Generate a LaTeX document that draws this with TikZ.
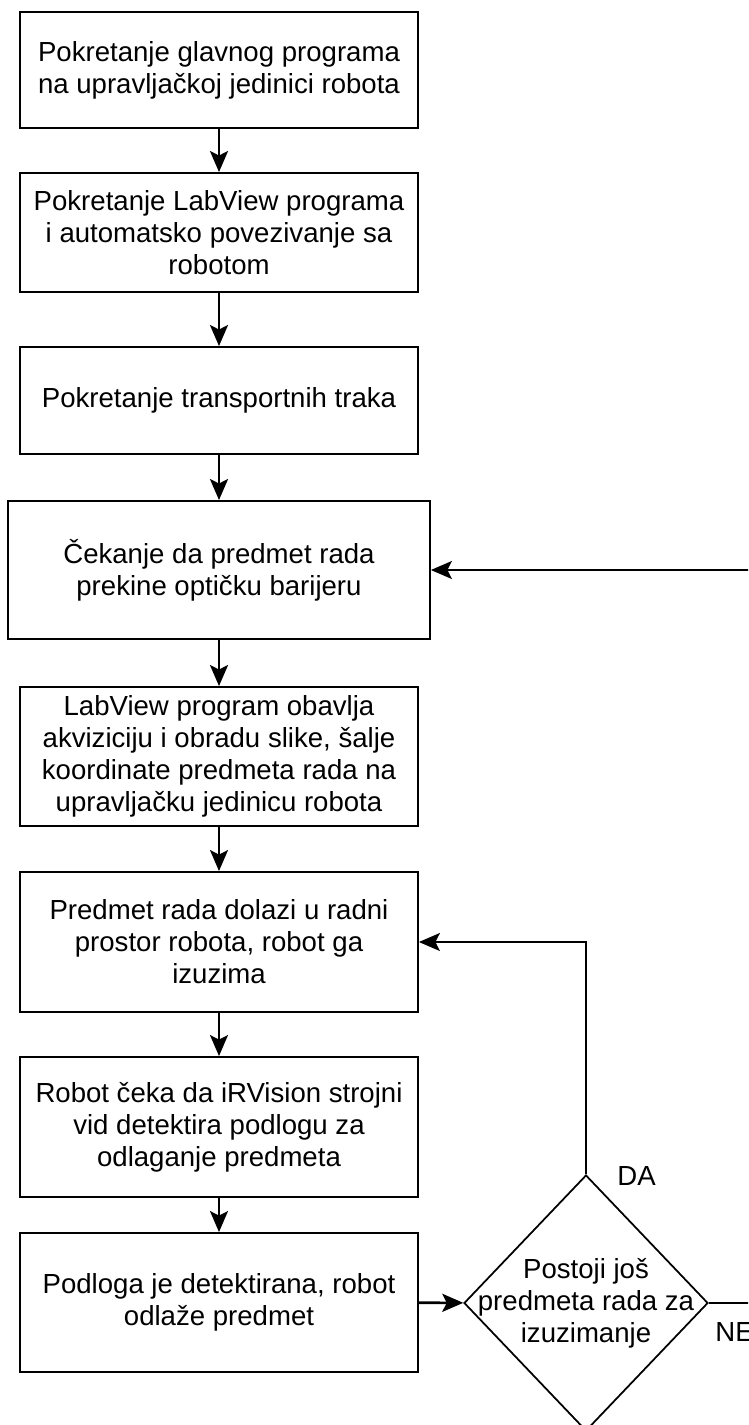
\documentclass[tikz,border=0pt]{standalone}
\usepackage{fontspec}
\setmainfont{Liberation Sans}
\usetikzlibrary{shapes.geometric,arrows.meta}

\begin{document}
\begin{tikzpicture}[x=0.02cm, y=-0.02cm,
  txt/.style={align=center, inner sep=0pt, font=\fontsize{15.7}{18.2}\selectfont},
  box/.style={txt, draw, line width=1.1pt, minimum width=7.96cm},
  decision/.style={diamond, draw, line width=1pt, inner sep=0pt, minimum width=4.88cm, minimum height=5.12cm},
  flow/.style={-{Stealth[length=0.42cm, width=0.36cm, inset=0.09cm]}, line width=1.5pt},
  thinflow/.style={flow, line width=1pt}]

\useasboundingbox (0,0) rectangle (748,1425);
\clip (0,0) rectangle (748,1425);

\node (start) at (219,70) [box, minimum height=2.32cm] {Pokretanje glavnog programa\\na upravljačkoj jedinici robota};
\node (connect) at (219,232.5) [box, minimum height=2.38cm] {Pokretanje LabView programa\\i automatsko povezivanje sa\\robotom};
\node (belts) at (219,400.5) [box, minimum height=2.14cm] {Pokretanje transportnih traka};
\node (wait) at (219,570) [box, minimum height=2.76cm, minimum width=8.44cm] {Čekanje da predmet rada\\prekine optičku barijeru};
\node (vision) at (219,756.5) [box, minimum height=2.78cm] {LabView program obavlja\\akviziciju i obradu slike, šalje\\koordinate predmeta rada na\\upravljačku jedinicu robota};
\node (pick) at (219,942) [box, minimum height=2.8cm] {Predmet rada dolazi u radni\\prostor robota, robot ga\\izuzima};
\node (detect) at (219,1127) [box, minimum height=2.8cm] {Robot čeka da iRVision strojni\\vid detektira podlogu za\\odlaganje predmeta};
\node (place) at (219,1302.5) [box, minimum height=2.78cm] {Podloga je detektirana, robot\\odlaže predmet};

\node (dec) at (586,1303) [decision] {};
\node (dectxt) at (dec) [txt] {Postoji još\\predmeta rada za\\izuzimanje};

\node (da) at (617,1176) [txt, right] {DA};
\node (ne) at (715,1332) [txt, right] {NE};

\coordinate (back) at (775,1303);

\draw [flow] (start) -- (connect);
\draw [flow] (connect) -- (belts);
\draw [flow] (belts) -- (wait);
\draw [flow] (wait) -- (vision);
\draw [thinflow] (vision) -- (pick);
\draw [thinflow] (pick) -- (detect);
\draw [thinflow] (detect) -- (place);
\draw [flow] (place) -- (dec);
\draw [thinflow] (dec.north) |- (pick.east);
\draw [thinflow] (dec.east) -- (back) |- (wait.east);

\end{tikzpicture}
\end{document}
